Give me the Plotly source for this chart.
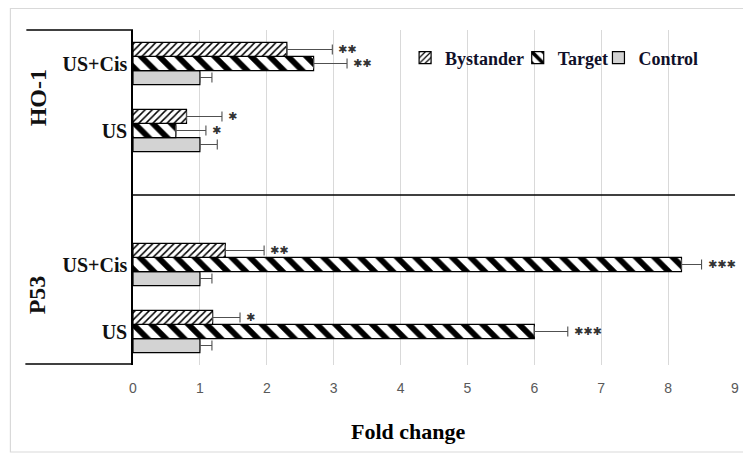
import plotly.graph_objects as go

# ---- data ----
groups = ["HO-1", "P53"]
conditions = ["US+Cis", "US", "US+Cis", "US"]
bystander = [2.3, 0.8, 1.38, 1.19]
bystander_err = [0.68, 0.53, 0.58, 0.41]
target = [2.7, 0.64, 8.2, 6.0]
target_err = [0.5, 0.45, 0.3, 0.5]
control = [1.0, 1.0, 1.0, 1.0]
control_err = [0.18, 0.26, 0.18, 0.18]
sig_bystander = ["**", "*", "**", "*"]
sig_target = ["**", "*", "***", "***"]
x_ticks = [0, 1, 2, 3, 4, 5, 6, 7, 8, 9]

# category slots (top to bottom): HO-1 US+Cis, HO-1 US, [separator], P53 US+Cis, P53 US
pos = [4, 3, 1, 0]
bw = 0.21

OFF = 8  # page body margin
W, H = 751 - OFF, 456 - OFF
# plot area in screen pixels: x 133..737, y 30..365
L = 133 - OFF
R = W - (737 - OFF)
T = 30 - OFF
B = H - (365 - OFF)
pw, ph = W - L - R, H - T - B


def px_x(sx):
    return (sx - OFF - L) / pw


def px_y(sy):
    return (H - B - (sy - OFF)) / ph


fig = go.Figure()

common_err = dict(type="data", symmetric=False, color="#505050", thickness=1.1, width=5)

fig.add_trace(go.Bar(
    name="<b>Control</b>", y=pos, x=control, orientation="h",
    marker=dict(color="#d3d3d3", line=dict(color="black", width=1.2)),
    error_x=dict(array=control_err, arrayminus=[0] * 4, **common_err),
    legend="legend3",
))
fig.add_trace(go.Bar(
    name="<b>Target</b>", y=pos, x=target, orientation="h",
    marker=dict(color="white", line=dict(color="black", width=1.2),
                pattern=dict(shape="\\", size=13, solidity=0.45, fgcolor="black",
                             fgopacity=1, bgcolor="white", fillmode="overlay")),
    error_x=dict(array=target_err, arrayminus=[0] * 4, **common_err),
    legend="legend2",
))
fig.add_trace(go.Bar(
    name="<b>Bystander</b>", y=pos, x=bystander, orientation="h",
    marker=dict(color="white", line=dict(color="black", width=1.2),
                pattern=dict(shape="/", size=5, solidity=0.3, fgcolor="black",
                             fgopacity=1, bgcolor="white", fillmode="overlay")),
    error_x=dict(array=bystander_err, arrayminus=[0] * 4, **common_err),
    legend="legend",
))

annotations = []
for i in range(4):
    for vals, errs, sig, off in [(bystander, bystander_err, sig_bystander, bw),
                                  (target, target_err, sig_target, 0.0)]:
        annotations.append(dict(
            x=vals[i] + errs[i], y=pos[i] + off, xref="x", yref="y",
            text=sig[i].replace("*", "✱"), showarrow=False, xanchor="left", yanchor="middle",
            xshift=4, font=dict(family="DejaVu Sans", size=11, color="#333333"),
        ))

# group labels
annotations.append(dict(x=px_x(38), y=px_y(98), xref="paper", yref="paper", text="<b>HO-1</b>",
                        textangle=-90, showarrow=False, xanchor="center", yanchor="middle",
                        font=dict(family="Liberation Serif", size=24, color="#111111")))
annotations.append(dict(x=px_x(37), y=px_y(295), xref="paper", yref="paper", text="<b>P53</b>",
                        textangle=-90, showarrow=False, xanchor="center", yanchor="middle",
                        font=dict(family="Liberation Serif", size=24, color="#111111")))
# x-axis title
annotations.append(dict(x=px_x(409), y=px_y(431), xref="paper", yref="paper",
                        text="<b>Fold change</b>", showarrow=False,
                        xanchor="center", yanchor="middle",
                        font=dict(family="Liberation Serif", size=22, color="black")))

shapes = [
    # outer chart frame
    dict(type="rect", xref="paper", yref="paper", x0=px_x(10), x1=px_x(748),
         y0=px_y(452), y1=px_y(8.5), line=dict(color="#d9d9d9", width=1.2)),
    # left label box lines
    dict(type="line", xref="paper", yref="paper", x0=px_x(26), x1=0, y0=1, y1=1,
         line=dict(color="black", width=1.5)),
    dict(type="line", xref="paper", yref="paper", x0=px_x(25), x1=0, y0=px_y(364), y1=px_y(364),
         line=dict(color="black", width=1.5)),
    # separator
    dict(type="line", xref="paper", yref="paper", x0=0, x1=1, y0=px_y(195), y1=px_y(195),
         line=dict(color="black", width=1.5)),
    # legend background over gridlines
    dict(type="rect", xref="paper", yref="paper", x0=px_x(418), x1=px_x(716),
         y0=px_y(86), y1=1, line=dict(width=0), fillcolor="white", layer="between"),
]

leg_font = dict(family="Liberation Serif", size=18, color="#10102a")
leg_common = dict(orientation="h", yanchor="middle", xanchor="left", y=px_y(58),
                  bgcolor="rgba(0,0,0,0)", font=leg_font, itemwidth=30)

fig.update_layout(
    width=W, height=H,
    margin=dict(l=L, r=R, t=T, b=B),
    paper_bgcolor="white", plot_bgcolor="white",
    barmode="group", bargap=0.37, bargroupgap=0,
    showlegend=True,
    legend=dict(x=px_x(406), **leg_common),
    legend2=dict(x=px_x(519), **leg_common),
    legend3=dict(x=px_x(600), **leg_common),
    annotations=annotations,
    shapes=shapes,
    xaxis=dict(range=[0, 9], tickvals=x_ticks, showgrid=True, gridcolor="#d9d9d9", gridwidth=1,
               zeroline=False, showline=False, ticks="",
               tickfont=dict(family="Liberation Sans", size=14, color="#595959"),
               ticklabelstandoff=13),
    yaxis=dict(range=[-0.5, 4.5], tickvals=pos, ticktext=["<b>" + c + "</b>" for c in conditions],
               showgrid=False, zeroline=False, showline=True, linecolor="black", linewidth=1.5,
               ticks="", tickfont=dict(family="Liberation Serif", size=20, color="#111111")),
)

fig.write_html("out.html")
